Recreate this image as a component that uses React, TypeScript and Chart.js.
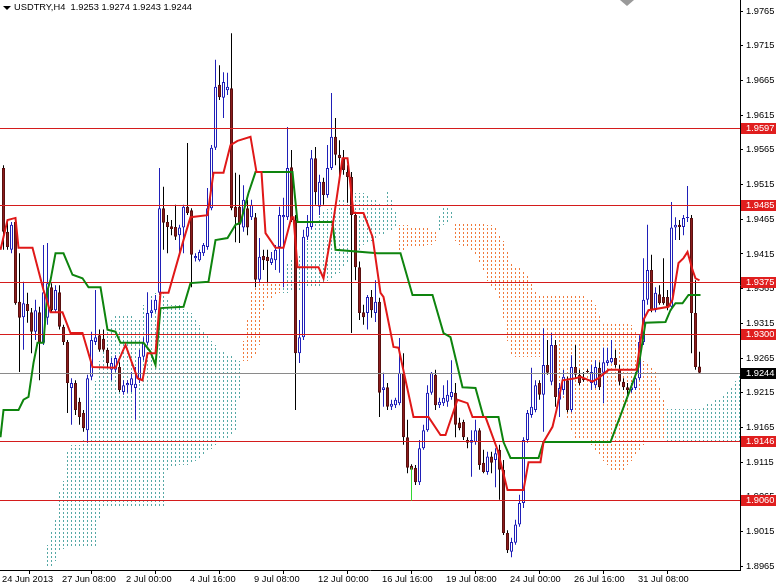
import React, { useEffect, useRef } from 'react';
import { Chart, registerables } from 'chart.js';

Chart.register(...registerables);

const SYMBOL = 'USDTRY,H4';
const LAST_OHLC = ['1.9253', '1.9274', '1.9243', '1.9244'];

const opens = [
  1.9539, 1.9447, 1.9421, 1.9461, 1.9346, 1.9324, 1.9343, 1.9331, 1.9303, 1.9331,
  1.9287, 1.9323, 1.9367, 1.9334, 1.9360, 1.9310, 1.9288, 1.9222, 1.9229, 1.9202,
  1.9186, 1.9161, 1.9238, 1.9288, 1.9298, 1.9293, 1.9277, 1.9248, 1.9248, 1.9252,
  1.9216, 1.9226, 1.9226, 1.9222, 1.9233, 1.9267, 1.9287, 1.9330, 1.9334, 1.9359,
  1.9481, 1.9461, 1.9455, 1.9454, 1.9442, 1.9453, 1.9483, 1.9478, 1.9409, 1.9406,
  1.9416, 1.9425, 1.9481, 1.9568, 1.9659, 1.9640, 1.9651, 1.9654, 1.9483, 1.9483,
  1.9453, 1.9481, 1.9468, 1.9468, 1.9378, 1.9412, 1.9411, 1.9402, 1.9406, 1.9425,
  1.9468, 1.9468, 1.9540, 1.9464, 1.9272, 1.9295, 1.9440, 1.9454, 1.9553, 1.9483,
  1.9519, 1.9500, 1.9539, 1.9584, 1.9558, 1.9553, 1.9533, 1.9526, 1.9471, 1.9396,
  1.9331, 1.9330, 1.9353, 1.9330, 1.9346, 1.9219, 1.9223, 1.9195, 1.9197, 1.9200,
  1.9244, 1.9151, 1.9110, 1.9107, 1.9086, 1.9135, 1.9161, 1.9215, 1.9241, 1.9197,
  1.9200, 1.9202, 1.9209, 1.9215, 1.9172, 1.9173, 1.9147, 1.9143, 1.9144, 1.9161,
  1.9114, 1.9101, 1.9123, 1.9118, 1.9133, 1.9104, 1.9013, 1.8986, 1.8999, 1.9025,
  1.9056, 1.9147, 1.9183, 1.9190, 1.9229, 1.9212, 1.9255, 1.9231, 1.9284, 1.9205,
  1.9219, 1.9233, 1.9190, 1.9252, 1.9241, 1.9236, 1.9246, 1.9229, 1.9226, 1.9251,
  1.9244, 1.9258, 1.9259, 1.9265, 1.9248, 1.9231, 1.9223, 1.9219, 1.9222, 1.9236,
  1.9288, 1.9349, 1.9392, 1.9334, 1.9357, 1.9353, 1.9353, 1.9339, 1.9453, 1.9457,
  1.9454, 1.9467, 1.9467, 1.9330, 1.9253,
];

const highs = [
  1.9543, 1.9464, 1.9461, 1.9468, 1.9416, 1.9375, 1.9359, 1.9337, 1.9349, 1.9339,
  1.9428, 1.9431, 1.9373, 1.9370, 1.9370, 1.9313, 1.9291, 1.9236, 1.9233, 1.9208,
  1.9190, 1.9241, 1.9303, 1.9363, 1.9306, 1.9306, 1.9280, 1.9265, 1.9269, 1.9259,
  1.9233, 1.9233, 1.9245, 1.9252, 1.9277, 1.9295, 1.9360, 1.9349, 1.9356, 1.9539,
  1.9512, 1.9471, 1.9464, 1.9486, 1.9457, 1.9486, 1.9575, 1.9481, 1.9416, 1.9421,
  1.9431, 1.9510, 1.9572, 1.9695, 1.9687, 1.9677, 1.9676, 1.9733, 1.9532, 1.9529,
  1.9514, 1.9493, 1.9493, 1.9474, 1.9438, 1.9421, 1.9421, 1.9418, 1.9428, 1.9483,
  1.9496, 1.9598, 1.9565, 1.9471, 1.9320, 1.9450, 1.9471, 1.9565, 1.9569, 1.9529,
  1.9525, 1.9572, 1.9647, 1.9611, 1.9579, 1.9565, 1.9543, 1.9533, 1.9476, 1.9404,
  1.9342, 1.9356, 1.9363, 1.9377, 1.9352, 1.9244, 1.9229, 1.9205, 1.9208, 1.9294,
  1.9272, 1.9176, 1.9112, 1.9111, 1.9147, 1.9169, 1.9226, 1.9245, 1.9248, 1.9208,
  1.9226, 1.9233, 1.9262, 1.9229, 1.9179, 1.9176, 1.9151, 1.9161, 1.9176, 1.9164,
  1.9133, 1.9130, 1.9130, 1.9135, 1.9140, 1.9118, 1.9017, 1.9006, 1.9032, 1.9068,
  1.9151, 1.9190, 1.9251, 1.9233, 1.9233, 1.9308, 1.9291, 1.9301, 1.9291, 1.9229,
  1.9248, 1.9238, 1.9269, 1.9284, 1.9248, 1.9245, 1.9249, 1.9255, 1.9262, 1.9259,
  1.9280, 1.9280, 1.9291, 1.9277, 1.9255, 1.9236, 1.9229, 1.9229, 1.9245, 1.9298,
  1.9409, 1.9457, 1.9414, 1.9367, 1.9370, 1.9409, 1.9363, 1.9490, 1.9468, 1.9464,
  1.9471, 1.9513, 1.9471, 1.9377, 1.9274,
];

const lows = [
  1.9421, 1.9421, 1.9416, 1.9342, 1.9245, 1.9277, 1.9316, 1.9272, 1.9291, 1.9233,
  1.9284, 1.9313, 1.9330, 1.9331, 1.9306, 1.9284, 1.9186, 1.9169, 1.9183, 1.9169,
  1.9159, 1.9143, 1.9233, 1.9284, 1.9274, 1.9274, 1.9252, 1.9233, 1.9245, 1.9216,
  1.9212, 1.9215, 1.9216, 1.9176, 1.9229, 1.9262, 1.9284, 1.9323, 1.9331, 1.9356,
  1.9421, 1.9416, 1.9442, 1.9435, 1.9414, 1.9416, 1.9471, 1.9367, 1.9404, 1.9404,
  1.9412, 1.9421, 1.9478, 1.9565, 1.9637, 1.9611, 1.9644, 1.9478, 1.9432, 1.9431,
  1.9447, 1.9442, 1.9464, 1.9367, 1.9373, 1.9392, 1.9373, 1.9399, 1.9392, 1.9388,
  1.9367, 1.9464, 1.9461, 1.9190, 1.9258, 1.9291, 1.9435, 1.9450, 1.9486, 1.9471,
  1.9486, 1.9496, 1.9536, 1.9543, 1.9526, 1.9529, 1.9489, 1.9301, 1.9377, 1.9320,
  1.9313, 1.9306, 1.9323, 1.9317, 1.9180, 1.9195, 1.9190, 1.9190, 1.9193, 1.9197,
  1.9140, 1.9099, 1.9101, 1.9082, 1.9082, 1.9133, 1.9159, 1.9212, 1.9190, 1.9193,
  1.9196, 1.9195, 1.9205, 1.9151, 1.9161, 1.9147, 1.9135, 1.9094, 1.9140, 1.9104,
  1.9099, 1.9097, 1.9099, 1.9079, 1.9061, 1.9010, 1.8984, 1.8978, 1.8996, 1.9022,
  1.9049, 1.9143, 1.9179, 1.9187, 1.9205, 1.9159, 1.9241, 1.9226, 1.9195, 1.9180,
  1.9212, 1.9187, 1.9187, 1.9236, 1.9226, 1.9231, 1.9244, 1.9219, 1.9222, 1.9219,
  1.9200, 1.9254, 1.9257, 1.9251, 1.9226, 1.9219, 1.9212, 1.9215, 1.9219, 1.9233,
  1.9284, 1.9342, 1.9331, 1.9331, 1.9342, 1.9342, 1.9334, 1.9334, 1.9435, 1.9435,
  1.9442, 1.9461, 1.9272, 1.9248, 1.9243,
];

const closes = [
  1.9447, 1.9425, 1.9457, 1.9344, 1.9323, 1.9344, 1.9333, 1.9303, 1.9334, 1.9287,
  1.9360, 1.9373, 1.9334, 1.9363, 1.9310, 1.9288, 1.9229, 1.9229, 1.9190, 1.9180,
  1.9164, 1.9236, 1.9291, 1.9295, 1.9277, 1.9277, 1.9258, 1.9258, 1.9265, 1.9219,
  1.9226, 1.9229, 1.9236, 1.9228, 1.9267, 1.9287, 1.9330, 1.9334, 1.9349, 1.9481,
  1.9460, 1.9454, 1.9451, 1.9440, 1.9453, 1.9483, 1.9474, 1.9414, 1.9412, 1.9418,
  1.9428, 1.9481, 1.9568, 1.9656, 1.9641, 1.9663, 1.9656, 1.9481, 1.9468, 1.9457,
  1.9493, 1.9453, 1.9486, 1.9378, 1.9411, 1.9406, 1.9405, 1.9409, 1.9421, 1.9471,
  1.9471, 1.9539, 1.9464, 1.9272, 1.9295, 1.9440, 1.9454, 1.9553, 1.9504, 1.9519,
  1.9500, 1.9539, 1.9584, 1.9558, 1.9553, 1.9536, 1.9526, 1.9471, 1.9396, 1.9330,
  1.9324, 1.9353, 1.9334, 1.9346, 1.9215, 1.9223, 1.9195, 1.9199, 1.9205, 1.9244,
  1.9151, 1.9107, 1.9104, 1.9086, 1.9135, 1.9161, 1.9215, 1.9244, 1.9197, 1.9202,
  1.9208, 1.9212, 1.9216, 1.9169, 1.9164, 1.9151, 1.9143, 1.9147, 1.9161, 1.9111,
  1.9101, 1.9123, 1.9114, 1.9128, 1.9104, 1.9013, 1.8988, 1.9000, 1.9025, 1.9056,
  1.9147, 1.9186, 1.9195, 1.9226, 1.9212, 1.9255, 1.9244, 1.9284, 1.9209, 1.9222,
  1.9238, 1.9190, 1.9252, 1.9241, 1.9229, 1.9233, 1.9245, 1.9245, 1.9252, 1.9223,
  1.9259, 1.9262, 1.9265, 1.9255, 1.9231, 1.9223, 1.9219, 1.9223, 1.9236, 1.9288,
  1.9349, 1.9392, 1.9334, 1.9359, 1.9344, 1.9344, 1.9339, 1.9453, 1.9457, 1.9454,
  1.9467, 1.9468, 1.9330, 1.9252, 1.9244,
];

// Tenkan-sen (red) and Kijun-sen (green): [bar index, price]
const tenkan: [number, number][] = [
  [-0.75, 1.9421], [1, 1.9464], [3, 1.9467], [3.75, 1.9424], [7.25, 1.9424], [10, 1.9363],
  [11.75, 1.9331], [14.75, 1.9331], [16.75, 1.9301], [19.75, 1.9301], [22.25, 1.9252],
  [28, 1.9251], [30.5, 1.9284], [33.5, 1.9236], [34.75, 1.9233], [36, 1.9272], [38, 1.9272],
  [39.25, 1.9359], [41.25, 1.9359], [45, 1.9435], [46.75, 1.9468], [51, 1.9471],
  [52.5, 1.9532], [55, 1.9532], [56.75, 1.9572], [58.5, 1.9578], [61.75, 1.9584],
  [63.25, 1.9533], [64.5, 1.9533], [65.5, 1.9445], [68, 1.9424], [70, 1.9424],
  [72, 1.9468], [72.5, 1.9468], [73.5, 1.9396], [78.75, 1.9396], [80, 1.9380],
  [82.25, 1.9454], [84.75, 1.9553], [86, 1.9553], [87.5, 1.9474], [90, 1.9474],
  [92.25, 1.9440], [94.25, 1.9359], [95, 1.9353], [97.5, 1.9281], [98.75, 1.9280],
  [102.5, 1.9180], [106.25, 1.9180], [109.25, 1.9154], [110.5, 1.9154], [113.5, 1.9205],
  [116, 1.9200], [117.25, 1.9180], [120.5, 1.9180], [123.5, 1.9133], [126, 1.9075],
  [130, 1.9075], [131.25, 1.9115], [134.25, 1.9115], [135, 1.9144], [137.25, 1.9166],
  [138.25, 1.9190], [139.75, 1.9233], [143, 1.9236], [144.25, 1.9238], [147.25, 1.9231],
  [148.75, 1.9236], [151.25, 1.9248], [158.25, 1.9248], [160, 1.9320], [161.25, 1.9334],
  [166.25, 1.9339], [167.25, 1.9349], [168.75, 1.9402], [170, 1.9409], [171, 1.9418],
  [172.25, 1.9392], [173, 1.9380], [174, 1.9377],
];

const kijun: [number, number][] = [
  [-0.75, 1.9151], [0, 1.9190], [3.75, 1.9190], [5, 1.9205], [6.25, 1.9209], [7.5, 1.9258],
  [8.5, 1.9287], [10, 1.9287], [11, 1.9363], [11.75, 1.9377], [13, 1.9416], [15, 1.9416],
  [17.25, 1.9385], [19.75, 1.9380], [21.25, 1.9367], [24.25, 1.9367], [26, 1.9306],
  [28, 1.9303], [29.25, 1.9287], [35, 1.9287], [36.75, 1.9274], [38, 1.9255],
  [39.25, 1.9337], [45, 1.9339], [46.75, 1.9373], [51.25, 1.9375], [53, 1.9435],
  [56, 1.9438], [58, 1.9457], [59.25, 1.9460], [61.25, 1.9503], [63, 1.9533],
  [72.25, 1.9533], [73.5, 1.9461], [82.25, 1.9461], [83, 1.9421], [93.5, 1.9416],
  [99.25, 1.9416], [102.25, 1.9356], [107.25, 1.9356], [110, 1.9301], [111.75, 1.9295],
  [114.75, 1.9223], [118, 1.9222], [120, 1.9180], [123.75, 1.9180], [125, 1.9144],
  [126.75, 1.9121], [133.75, 1.9121], [135, 1.9144], [151.75, 1.9144], [154.75, 1.9190],
  [157.25, 1.9229], [158.75, 1.9252], [160.5, 1.9316], [165.5, 1.9317], [166.75, 1.9334],
  [168, 1.9344], [169.75, 1.9344], [171.25, 1.9356], [174.25, 1.9356],
];

const chikouSegment: [number, number][] = [[102, 1.9107], [102, 1.9060]];

// Kumo (Senkou Span A / B), one value per bar starting at CLOUD_START
const CLOUD_START = 11;
const spanA = [
  1.8996, 1.9017, 1.9032, 1.9075, 1.9089, 1.9133, 1.9140, 1.9140, 1.9140, 1.9147,
  1.9176, 1.9205, 1.9233, 1.9262, 1.9291, 1.9306, 1.9323, 1.9329, 1.9329, 1.9329,
  1.9329, 1.9326, 1.9320, 1.9323, 1.9342, 1.9349, 1.9355, 1.9360, 1.9363, 1.9363,
  1.9349, 1.9342, 1.9342, 1.9342, 1.9337, 1.9334, 1.9330, 1.9320, 1.9313, 1.9306,
  1.9298, 1.9291, 1.9284, 1.9277, 1.9274, 1.9272, 1.9269, 1.9265, 1.9262, 1.9262,
  1.9262, 1.9265, 1.9269, 1.9284, 1.9334, 1.9349, 1.9352, 1.9356, 1.9360, 1.9395,
  1.9404, 1.9409, 1.9414, 1.9414, 1.9421, 1.9435, 1.9450, 1.9461, 1.9471, 1.9478,
  1.9481, 1.9486, 1.9488, 1.9493, 1.9496, 1.9500, 1.9503, 1.9504, 1.9504, 1.9504,
  1.9500, 1.9496, 1.9493, 1.9488, 1.9486, 1.9507, 1.9493, 1.9478, 1.9421, 1.9421,
  1.9424, 1.9424, 1.9425, 1.9425, 1.9426, 1.9428, 1.9429, 1.9435, 1.9471, 1.9486,
  1.9486, 1.9478, 1.9435, 1.9428, 1.9424, 1.9424, 1.9421, 1.9414, 1.9404, 1.9392,
  1.9377, 1.9370, 1.9363, 1.9349, 1.9320, 1.9291, 1.9269, 1.9267, 1.9267, 1.9267,
  1.9267, 1.9267, 1.9267, 1.9267, 1.9267, 1.9265, 1.9262, 1.9255, 1.9233, 1.9205,
  1.9176, 1.9161, 1.9151, 1.9147, 1.9147, 1.9147, 1.9140, 1.9133, 1.9125, 1.9118,
  1.9111, 1.9104, 1.9104, 1.9104, 1.9104, 1.9111, 1.9118, 1.9125, 1.9133, 1.9140,
  1.9147, 1.9150, 1.9151, 1.9151, 1.9151, 1.9193, 1.9193, 1.9193, 1.9193, 1.9193,
  1.9193, 1.9193, 1.9193, 1.9193, 1.9196, 1.9199, 1.9202, 1.9205, 1.9208, 1.9213,
  1.9219, 1.9226, 1.9233, 1.9241,
];
const spanB = [
  1.8963, 1.8963, 1.8974, 1.8988, 1.8991, 1.8994, 1.8994, 1.8994, 1.8994, 1.8994,
  1.8994, 1.8994, 1.8994, 1.9032, 1.9049, 1.9049, 1.9049, 1.9049, 1.9049, 1.9053,
  1.9053, 1.9053, 1.9053, 1.9053, 1.9053, 1.9053, 1.9053, 1.9053, 1.9053, 1.9053,
  1.9104, 1.9107, 1.9107, 1.9111, 1.9111, 1.9111, 1.9115, 1.9118, 1.9121, 1.9125,
  1.9133, 1.9135, 1.9140, 1.9147, 1.9150, 1.9150, 1.9154, 1.9161, 1.9205, 1.9291,
  1.9320, 1.9363, 1.9370, 1.9373, 1.9375, 1.9375, 1.9375, 1.9375, 1.9373, 1.9360,
  1.9360, 1.9363, 1.9363, 1.9363, 1.9363, 1.9366, 1.9366, 1.9366, 1.9370, 1.9375,
  1.9377, 1.9380, 1.9385, 1.9389, 1.9395, 1.9404, 1.9409, 1.9414, 1.9421, 1.9428,
  1.9432, 1.9435, 1.9438, 1.9441, 1.9442, 1.9447, 1.9450, 1.9453, 1.9457, 1.9457,
  1.9457, 1.9455, 1.9454, 1.9453, 1.9453, 1.9453, 1.9450, 1.9447, 1.9450, 1.9457,
  1.9461, 1.9464, 1.9461, 1.9461, 1.9461, 1.9461, 1.9461, 1.9460, 1.9460, 1.9460,
  1.9458, 1.9457, 1.9453, 1.9442, 1.9435, 1.9421, 1.9404, 1.9399, 1.9395, 1.9392,
  1.9385, 1.9375, 1.9363, 1.9356, 1.9356, 1.9356, 1.9356, 1.9356, 1.9356, 1.9356,
  1.9356, 1.9356, 1.9356, 1.9356, 1.9356, 1.9352, 1.9349, 1.9342, 1.9327, 1.9317,
  1.9316, 1.9316, 1.9316, 1.9316, 1.9316, 1.9316, 1.9313, 1.9306, 1.9284, 1.9262,
  1.9258, 1.9255, 1.9248, 1.9226, 1.9205, 1.9144, 1.9144, 1.9144, 1.9144, 1.9144,
  1.9144, 1.9144, 1.9144, 1.9144, 1.9144, 1.9144, 1.9144, 1.9144, 1.9144, 1.9144,
  1.9144, 1.9144, 1.9144, 1.9144,
];

const levels = [1.9597, 1.9485, 1.9375, 1.93, 1.9146, 1.906];
const bidPrice = 1.9244;
const yTicks = [
  1.8965, 1.9015, 1.9065, 1.9115, 1.9165, 1.9215, 1.9265, 1.9315, 1.9365,
  1.9415, 1.9465, 1.9515, 1.9565, 1.9615, 1.9665, 1.9715, 1.9765,
];
const xTickBars = [-1, 14, 30, 46, 62, 78, 94, 110, 126, 142, 158];
const xTickLabels = [
  '24 Jun 2013', '27 Jun 08:00', '2 Jul 00:00', '4 Jul 16:00', '9 Jul 08:00', '12 Jul 00:00',
  '16 Jul 16:00', '19 Jul 08:00', '24 Jul 00:00', '26 Jul 16:00', '31 Jul 08:00',
];

const Y_MIN = 1.89596;
const Y_MAX = 1.9781;
const X_MIN = -0.875;
const X_MAX = 184.125;

const FONT = '"Liberation Sans", Arial, sans-serif';
const FONT_SIZE = 9.3;
const BULL_LINE = '#1f1fb8';
const BEAR_WICK = '#000000';
const BEAR_EDGE = '#5a1010';
const BEAR_FILL = '#8c1c1c';
const LEVEL_RED = '#d41c1c';
const KUMO_UP = '#55a8a5';
const KUMO_DOWN = '#f07a3c';

export default function App() {
  const ref = useRef<HTMLCanvasElement>(null);

  useEffect(() => {
    const canvas = ref.current!;

    const bull = opens.map((o, i) => closes[i] >= o);
    const wickData = opens.map((_, i) => ({ x: i, y: [lows[i], highs[i]] }));
    const bodyData = opens.map((o, i) => ({ x: i, y: [o, closes[i]] }));

    const kumoPlugin = {
      id: 'kumo',
      beforeDatasetsDraw(chart: any) {
        const { ctx: c, chartArea: a, scales } = chart;
        const xs = scales.x;
        const ys = scales.y;
        c.save();
        c.beginPath();
        c.rect(a.left, a.top, a.right - a.left, a.bottom - a.top);
        c.clip();
        spanA.forEach((va, k) => {
          const vb = spanB[k];
          const px = Math.floor(xs.getPixelForValue(CLOUD_START + k));
          const y1 = Math.ceil(ys.getPixelForValue(Math.max(va, vb)));
          const y2 = Math.floor(ys.getPixelForValue(Math.min(va, vb)));
          c.fillStyle = va >= vb ? KUMO_UP : KUMO_DOWN;
          for (let py = y1; py <= y2; py++) {
            if (py % 4 < 2) c.fillRect(px, py, 1, 1);
          }
        });
        c.restore();
      },
    };

    const levelsPlugin = {
      id: 'levels',
      beforeDatasetDraw(chart: any, args: any) {
        if (args.index !== 2) return;
        const { ctx: c, chartArea: a, scales } = chart;
        const y = scales.y;
        c.save();
        c.lineWidth = 1;
        levels.forEach((v) => {
          const py = Math.round(y.getPixelForValue(v)) + 0.5;
          c.strokeStyle = LEVEL_RED;
          c.beginPath();
          c.moveTo(a.left, py);
          c.lineTo(a.right, py);
          c.stroke();
        });
        const pb = Math.round(y.getPixelForValue(bidPrice)) + 0.5;
        c.strokeStyle = '#8a8a8a';
        c.beginPath();
        c.moveTo(a.left, pb);
        c.lineTo(a.right, pb);
        c.stroke();
        c.restore();
      },
      afterDraw(chart: any) {
        const { ctx: c, chartArea: a, scales, width } = chart;
        const y = scales.y;
        c.save();
        c.font = `${FONT_SIZE}px ${FONT}`;
        c.textBaseline = 'middle';
        c.textAlign = 'left';
        const box = (v: number, bg: string) => {
          const py = Math.round(y.getPixelForValue(v));
          c.fillStyle = bg;
          c.fillRect(a.right + 1, py - 5, width - a.right - 1, 11);
          c.fillStyle = '#ffffff';
          c.fillText(v.toFixed(4), a.right + 6, py + 0.5);
        };
        levels.forEach((v) => box(v, '#e01e1e'));
        box(bidPrice, '#000000');
        const mx = a.right - 113;
        c.fillStyle = '#9a9a9a';
        c.beginPath();
        c.moveTo(mx - 7, a.top);
        c.lineTo(mx + 7, a.top);
        c.lineTo(mx, a.top + 6);
        c.closePath();
        c.fill();
        c.restore();
      },
    };

    const chart = new Chart(canvas, {
      type: 'bar',
      data: {
        datasets: [
          {
            type: 'line',
            data: tenkan.map(([x, v]) => ({ x, y: v })),
            borderColor: '#e01818',
            borderWidth: 2,
            pointRadius: 0,
            tension: 0,
            order: 0,
          } as any,
          {
            type: 'line',
            data: chikouSegment.map(([x, v]) => ({ x, y: v })),
            borderColor: '#33d633',
            borderWidth: 1,
            pointRadius: 0,
            order: 0,
          } as any,
          {
            type: 'line',
            data: kijun.map(([x, v]) => ({ x, y: v })),
            borderColor: '#0e840e',
            borderWidth: 2,
            pointRadius: 0,
            tension: 0,
            order: 1,
          } as any,
          {
            type: 'bar',
            data: bodyData,
            barThickness: 3,
            minBarLength: 1,
            backgroundColor: bull.map((b) => (b ? '#ffffff' : BEAR_FILL)),
            borderColor: bull.map((b) => (b ? BULL_LINE : BEAR_EDGE)),
            borderWidth: 1,
            borderSkipped: false,
            grouped: false,
            inflateAmount: 0,
            order: 2,
          } as any,
          {
            type: 'bar',
            data: wickData,
            barThickness: 1,
            backgroundColor: bull.map((b) => (b ? BULL_LINE : BEAR_WICK)),
            borderWidth: 0,
            grouped: false,
            inflateAmount: 0,
            order: 3,
          } as any,
        ],
      },
      options: {
        responsive: false,
        maintainAspectRatio: false,
        animation: false,
        events: [],
        layout: { padding: 0 },
        plugins: {
          legend: { display: false },
          tooltip: { enabled: false },
          title: { display: false },
        },
        scales: {
          x: {
            type: 'linear',
            min: X_MIN,
            max: X_MAX,
            offset: false,
            afterBuildTicks: (s: any) => {
              s.ticks = xTickBars.map((v) => ({ value: v }));
            },
            afterFit: (s: any) => {
              s.height = 15;
              s.paddingLeft = 0;
              s.paddingRight = 0;
            },
            grid: { drawOnChartArea: false, drawTicks: true, tickLength: 4, color: '#000', tickColor: '#000' },
            border: { display: true, color: '#000', width: 1 },
            ticks: {
              autoSkip: false,
              maxRotation: 0,
              minRotation: 0,
              align: 'start',
              padding: 0,
              color: '#000',
              font: { family: FONT, size: FONT_SIZE },
              callback: (_v: any, i: number) => ' ' + xTickLabels[i],
            },
          },
          y: {
            type: 'linear',
            position: 'right',
            min: Y_MIN,
            max: Y_MAX,
            afterBuildTicks: (s: any) => {
              s.ticks = yTicks.map((v) => ({ value: v }));
            },
            afterFit: (s: any) => {
              s.width = 36;
              s.paddingTop = 0;
              s.paddingBottom = 0;
            },
            grid: { drawOnChartArea: false, drawTicks: true, tickLength: 3, color: '#000', tickColor: '#000' },
            border: { display: true, color: '#000', width: 1 },
            ticks: {
              padding: 3,
              color: '#000',
              font: { family: FONT, size: FONT_SIZE },
              callback: (v: any) => Number(v).toFixed(4),
            },
          },
        },
      } as any,
      plugins: [kumoPlugin, levelsPlugin],
    });
    return () => chart.destroy();
  }, []);

  return (
    <div style={{ position: 'fixed', left: 0, top: 0, width: 776, height: 585, background: '#fff' }}>
      <canvas ref={ref} width={776} height={585} style={{ width: 776, height: 585, display: 'block' }} />
      <div
        style={{
          position: 'absolute',
          left: 3,
          top: 2,
          font: `${FONT_SIZE}px ${FONT}`,
          color: '#000',
          whiteSpace: 'pre',
          display: 'flex',
          alignItems: 'center',
          lineHeight: '11px',
        }}
      >
        <span
          style={{
            display: 'inline-block',
            width: 0,
            height: 0,
            borderLeft: '4px solid transparent',
            borderRight: '4px solid transparent',
            borderTop: '4px solid #000',
            marginRight: 3,
          }}
        />
        <span>{SYMBOL + '  ' + LAST_OHLC.join(' ')}</span>
      </div>
    </div>
  );
}
